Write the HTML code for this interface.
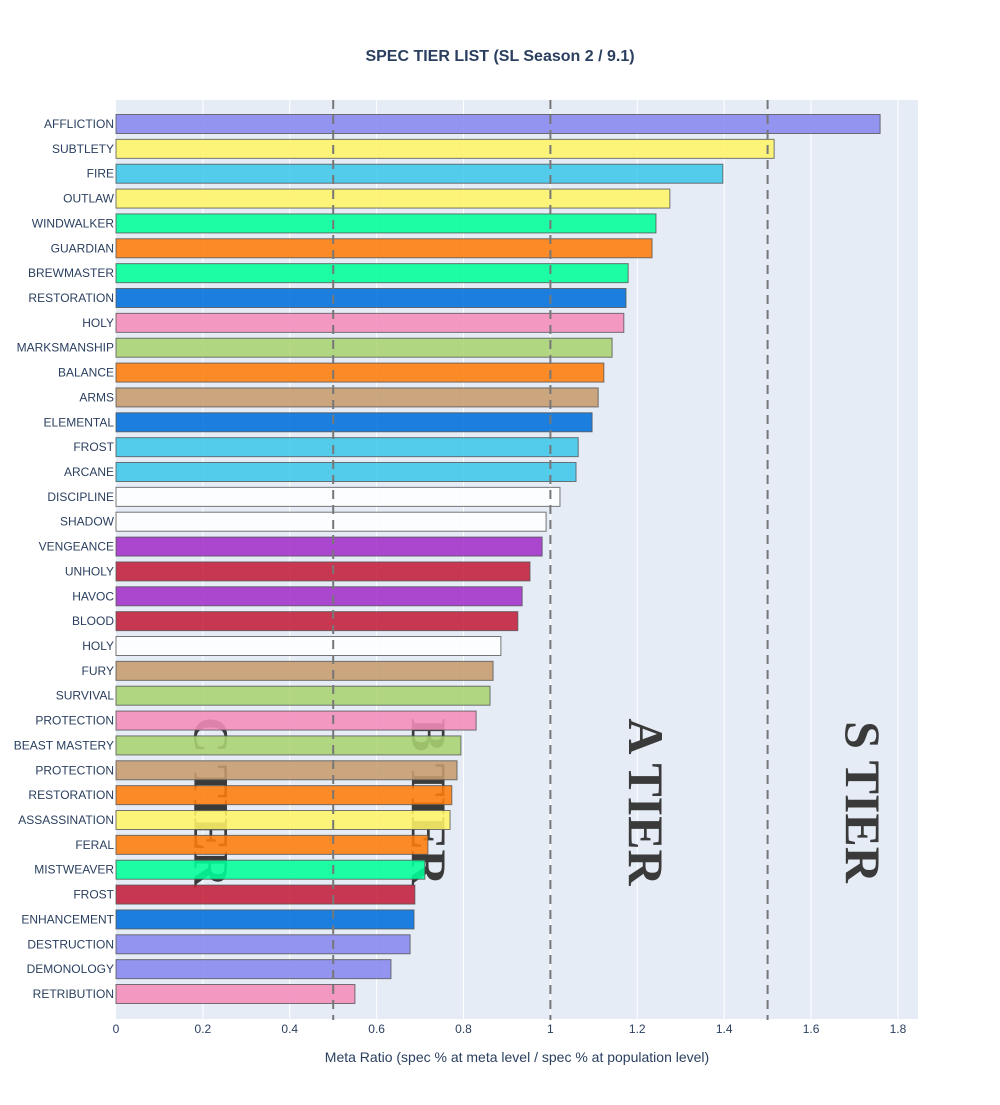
<!DOCTYPE html>
<html><head><meta charset="utf-8"><style>
body{margin:0;background:#fff;}
svg text{font-family:"Liberation Sans",Arial,sans-serif;}
</style></head><body>
<svg id="chart" width="1000" height="1100" xmlns="http://www.w3.org/2000/svg">
<rect width="1000" height="1100" fill="#fff"/>
<text x="500" y="61" text-anchor="middle" font-size="16" font-weight="bold" fill="#2a3f5f">SPEC TIER LIST (SL Season 2 / 9.1)</text>
<rect x="116" y="100" width="802" height="919" fill="#e5ecf6"/>
<g id="grid"></g>
<g id="tiers"></g>
<g id="bars"></g>
<g id="lines"></g>
<g id="labels"></g>
<text x="517" y="1062" text-anchor="middle" font-size="14" fill="#2a3f5f">Meta Ratio (spec % at meta level / spec % at population level)</text>
</svg>
<script>
const categories=["AFFLICTION","SUBTLETY","FIRE","OUTLAW","WINDWALKER","GUARDIAN","BREWMASTER","RESTORATION","HOLY","MARKSMANSHIP","BALANCE","ARMS","ELEMENTAL","FROST","ARCANE","DISCIPLINE","SHADOW","VENGEANCE","UNHOLY","HAVOC","BLOOD","HOLY","FURY","SURVIVAL","PROTECTION","BEAST MASTERY","PROTECTION","RESTORATION","ASSASSINATION","FERAL","MISTWEAVER","FROST","ENHANCEMENT","DESTRUCTION","DEMONOLOGY","RETRIBUTION"];
const values=[1.759,1.515,1.397,1.275,1.243,1.234,1.179,1.174,1.169,1.142,1.123,1.110,1.096,1.064,1.059,1.022,0.990,0.981,0.953,0.935,0.925,0.886,0.868,0.861,0.829,0.794,0.785,0.773,0.769,0.718,0.711,0.688,0.686,0.677,0.633,0.550];
const classes=["warlock","rogue","mage","rogue","monk","druid","monk","shaman","paladin","hunter","druid","warrior","shaman","mage","mage","priest","priest","dh","dk","dh","dk","priest","warrior","hunter","paladin","hunter","warrior","druid","rogue","druid","monk","dk","shaman","warlock","warlock","paladin"];
const xTicks=[0,0.2,0.4,0.6,0.8,1,1.2,1.4,1.6,1.8];
const xTickLabels=["0","0.2","0.4","0.6","0.8","1","1.2","1.4","1.6","1.8"];
const tierLines=[0.5,1,1.5];
const tierNames=["C TIER","B TIER","A TIER","S TIER"];
const tierPos=[0.22,0.72,1.22,1.72];
const colors={warlock:"#8788EE",rogue:"#FFF468",mage:"#3FC7EB",monk:"#00FF98",druid:"#FF7C0A",shaman:"#0070DD",paladin:"#F48CBA",hunter:"#AAD372",warrior:"#C69B6D",priest:"#FFFFFF",dh:"#A330C9",dk:"#C41E3A"};
const NS="http://www.w3.org/2000/svg";
const X0=116,SC=434.4,Y0=124,DY=24.857,BH=19;
const xs=v=>X0+v*SC, ys=i=>Y0+i*DY;
function mk(p,t,a){const e=document.createElementNS(NS,t);for(const k in a)e.setAttribute(k,a[k]);document.getElementById(p).appendChild(e);return e;}
xTicks.forEach((t,i)=>{
 if(t>0){const g=mk("grid","line",{x1:xs(t),x2:xs(t),y1:100,y2:1019,stroke:"#fff","stroke-width":1});
 
 }
 const l=mk("labels","text",{x:xs(t),y:1033,"text-anchor":"middle","font-size":12,fill:"#2a3f5f"});l.textContent=xTickLabels[i];
 
 
});
tierNames.forEach((n,i)=>{
 const cx=xs(tierPos[i]),cy=802;
 const t=mk("tiers","text",{x:cx,y:cy,"text-anchor":"middle","font-size":50,"font-weight":"bold",fill:"#3a3a3a",transform:`rotate(90 ${cx} ${cy})`,"dominant-baseline":"central"});
 t.style.fontFamily='"Liberation Serif",serif';
 t.textContent=n;
 
 
});
categories.forEach((c,i)=>{
 const b=mk("bars","rect",{x:X0,y:ys(i)-BH/2,width:xs(values[i])-X0,height:BH,fill:colors[classes[i]],"fill-opacity":0.88,stroke:"#555","stroke-opacity":0.8,"stroke-width":1});
 
 
 const l=mk("labels","text",{x:X0-2,y:ys(i)+4,"text-anchor":"end","font-size":12,fill:"#2a3f5f"});l.textContent=c;
 
 
});
tierLines.forEach(v=>{
 const l=mk("lines","line",{x1:xs(v),x2:xs(v),y1:100,y2:1020,stroke:"#777","stroke-width":2,"stroke-dasharray":"9,6"});
 
 
});
</script>
</body></html>
